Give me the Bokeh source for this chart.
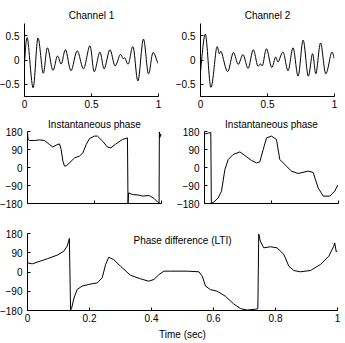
import numpy as np
from bokeh.plotting import figure
from bokeh.layouts import column, row
from bokeh.models import Range1d, FixedTicker, Label
from bokeh.embed import file_html
from bokeh.resources import INLINE

# ---------------- data ----------------
# Channel 1: extrema of the oscillating signal
ch1_t = [0.0, 0.022, 0.064, 0.100, 0.139, 0.171, 0.211, 0.245, 0.275, 0.307,
         0.347, 0.393, 0.441, 0.488, 0.520, 0.562, 0.595, 0.637, 0.675, 0.713,
         0.735, 0.750, 0.776, 0.811, 0.847, 0.887, 0.924, 0.958, 0.995]
ch1_v = [-0.05, 0.45, -0.57, 0.45, -0.27, 0.25, -0.21, 0.08, -0.08, 0.21,
         -0.22, 0.19, -0.18, 0.29, -0.24, 0.16, -0.18, 0.21, -0.12, 0.11,
         0.03, 0.04, -0.08, 0.27, -0.43, 0.43, -0.28, 0.15, -0.07]

# Channel 2: extrema of the oscillating signal
ch2_t = [0.0, 0.037, 0.077, 0.119, 0.139, 0.157, 0.202, 0.244, 0.281, 0.318,
         0.356, 0.393, 0.425, 0.448, 0.465, 0.493, 0.530, 0.560, 0.580, 0.617,
         0.654, 0.691, 0.729, 0.766, 0.803, 0.836, 0.862, 0.896, 0.934, 0.977,
         0.998]
ch2_v = [-0.24, 0.53, -0.56, 0.24, 0.13, 0.16, -0.24, 0.15, -0.09, 0.11,
         -0.17, 0.21, -0.11, -0.08, -0.10, 0.23, -0.15, 0.06, -0.04, 0.16,
         -0.22, 0.25, -0.33, 0.41, -0.33, 0.13, -0.28, 0.35, -0.28, 0.15,
         0.03]

# Instantaneous phase, channel 1 (degrees)
ph1_t = [0.0, 0.004, 0.015, 0.052, 0.090, 0.127, 0.164, 0.189, 0.214, 0.239,
         0.251, 0.264, 0.276, 0.289, 0.313, 0.351, 0.388, 0.413, 0.438, 0.463,
         0.500, 0.522, 0.560, 0.597, 0.622, 0.659, 0.709, 0.746, 0.750, 0.755,
         0.784, 0.833, 0.858, 0.908, 0.945, 0.970, 0.982, 0.984, 0.988, 0.992,
         1.0]
ph1_v = [178, 140, 135, 135, 138, 135, 115, 103, 112, 118,
         90, 32, 7, 8, 23, 48, 57, 73, 115, 145,
         157, 157, 132, 102, 98, 118, 140, 148, -178, -127,
         -135, -138, -143, -140, -155, -172, -179, 178, 150, 168,
         158]

# Instantaneous phase, channel 2 (degrees)
ph2_t = [0.0, 0.010, 0.027, 0.047, 0.051, 0.065, 0.102, 0.127, 0.152, 0.177,
         0.214, 0.264, 0.301, 0.351, 0.388, 0.413, 0.438, 0.463, 0.500, 0.537,
         0.562, 0.587, 0.649, 0.699, 0.774, 0.811, 0.848, 0.886, 0.935, 0.972,
         0.995]
ph2_v = [173, 168, 172, 175, -178, -175, -152, -118, -10, 40,
         65, 78, 60, 35, 23, 28, 90, 148, 157, 140,
         40, 23, -18, -30, -18, -25, -102, -143, -143, -118,
         -88]

# Phase difference (LTI) (degrees)
pd_t = [0.0, 0.015, 0.031, 0.064, 0.096, 0.117, 0.128, 0.135, 0.139, 0.142,
        0.150, 0.160, 0.176, 0.198, 0.225, 0.241, 0.252, 0.262, 0.278, 0.300,
        0.332, 0.365, 0.391, 0.408, 0.424, 0.440, 0.461, 0.515, 0.553, 0.564,
        0.574, 0.590, 0.612, 0.638, 0.665, 0.687, 0.708, 0.735, 0.743, 0.746,
        0.751, 0.762, 0.784, 0.805, 0.827, 0.843, 0.859, 0.880, 0.913, 0.945,
        0.972, 0.988, 0.991, 0.996, 1.0]
pd_v = [43, 38, 46, 62, 79, 97, 121, 157, -178, -171,
        -121, -82, -66, -58, -51, -27, 35, 69, 58, 27,
        -15, -32, -43, -35, -12, 4, 4, 4, 1, -20,
        -66, -82, -90, -113, -149, -171, -178, -174, -172, 178,
        144, 113, 118, 113, 82, 27, 7, 1, 7, 35,
        74, 121, 136, 94, 100]

top_xticks = [0, 0.5, 1]
top_xlabels = ["0", "0.5", "1"]
top_yticks = [-0.5, 0, 0.5]
top_ylabels = ["\u22120.5", "0", "0.5"]
ph_yticks = [-180, -90, 0, 90, 180]
ph_ylabels = ["\u2212180", "\u221290", "0", "90", "180"]
bot_xticks = [0, 0.2, 0.4, 0.6, 0.8, 1]
bot_xlabels = ["0", "0.2", "0.4", "0.6", "0.8", "1"]

FONT = "Liberation Sans"
FS = "10px"


def smooth_segments(t, v):
    """Catmull-Rom style Bezier control points through the read points."""
    t = np.asarray(t, float)
    v = np.asarray(v, float)
    pt = np.concatenate([[t[0]], t, [t[-1]]])
    pv = np.concatenate([[v[0]], v, [v[-1]]])
    x0, y0 = pt[1:-2], pv[1:-2]
    x1, y1 = pt[2:-1], pv[2:-1]
    cx0 = x0 + (pt[2:-1] - pt[0:-3]) / 6.0
    cy0 = y0 + (pv[2:-1] - pv[0:-3]) / 6.0
    cx1 = x1 - (pt[3:] - pt[1:-2]) / 6.0
    cy1 = y1 - (pv[3:] - pv[1:-2]) / 6.0
    return dict(x0=x0, y0=y0, x1=x1, y1=y1, cx0=cx0, cy0=cy0, cx1=cx1, cy1=cy1)


def make_fig(fw, fh, left, right, top, bottom, yr, title=None, tstand=4):
    p = figure(frame_width=fw, frame_height=fh,
               min_border_left=left, min_border_right=right,
               min_border_top=top, min_border_bottom=bottom,
               x_range=Range1d(0, 1), y_range=Range1d(*yr),
               output_backend="svg", toolbar_location=None, title=title)
    p.outline_line_color = None
    p.grid.visible = False
    p.background_fill_color = "white"
    p.border_fill_color = "white"
    if title:
        p.title.text_font = FONT
        p.title.text_font_size = FS
        p.title.text_font_style = "normal"
        p.title.align = "center"
        p.title.standoff = tstand
        p.title.text_color = "black"
    for ax in (p.xaxis[0], p.yaxis[0]):
        ax.axis_line_color = "black"
        ax.axis_line_width = 1
        ax.major_tick_line_color = "black"
        ax.major_tick_in = 3
        ax.major_tick_out = 0
        ax.minor_tick_line_color = None
        ax.major_label_text_font = FONT
        ax.major_label_text_font_size = FS
        ax.major_label_text_color = "black"
    p.yaxis.major_label_standoff = 5
    p.xaxis.major_label_standoff = 3
    return p


def set_ticks(axis, ticks, labels):
    axis.ticker = FixedTicker(ticks=ticks)
    axis.major_label_overrides = {t: l for t, l in zip(ticks, labels)}


LC = "black"

# top row
tl = make_fig(134, 73, 27, 12, 24, 16, (-0.75, 0.75), "Channel 1", 5)
tl.bezier(line_color=LC, line_width=1, **smooth_segments(ch1_t, ch1_v))
tr = make_fig(134, 73, 30, 7, 24, 16, (-0.75, 0.75), "Channel 2", 5)
tr.bezier(line_color=LC, line_width=1, **smooth_segments(ch2_t, ch2_v))
for p in (tl, tr):
    set_ticks(p.xaxis[0], top_xticks, top_xlabels)
    set_ticks(p.yaxis[0], top_yticks, top_ylabels)

# middle row
ml = make_fig(134, 72, 27, 12, 19, 12, (-180, 180), "Instantaneous phase", 4)
ml.line(ph1_t, ph1_v, line_color=LC, line_width=1)
mr = make_fig(134, 72, 30, 7, 19, 12, (-180, 180), "Instantaneous phase", 4)
mr.line(ph2_t, ph2_v, line_color=LC, line_width=1)
for p in (ml, mr):
    set_ticks(p.xaxis[0], top_xticks, ["", "", ""])
    set_ticks(p.yaxis[0], ph_yticks, ph_ylabels)
    p.xaxis.major_label_text_font_size = "0px"

# bottom
bt = make_fig(310, 77, 27, 7, 18, 31, (-180, 180))
bt.line(pd_t, pd_v, line_color=LC, line_width=1)
set_ticks(bt.xaxis[0], bot_xticks, bot_xlabels)
set_ticks(bt.yaxis[0], ph_yticks, ph_ylabels)
bt.xaxis.axis_label = "Time (sec)"
bt.xaxis.axis_label_text_font = FONT
bt.xaxis.axis_label_text_font_size = FS
bt.xaxis.axis_label_text_font_style = "normal"
bt.xaxis.axis_label_text_color = "black"
bt.xaxis.axis_label_standoff = 4
bt.add_layout(Label(x=0.5, y=147, text="Phase difference (LTI)",
                    text_align="center", text_baseline="middle",
                    text_font=FONT, text_font_size=FS, text_color="black"))

layout = column(row(tl, tr), row(ml, mr), bt, margin=(-1, 0, 0, -4))

open("out.html", "w").write(file_html(layout, INLINE))
